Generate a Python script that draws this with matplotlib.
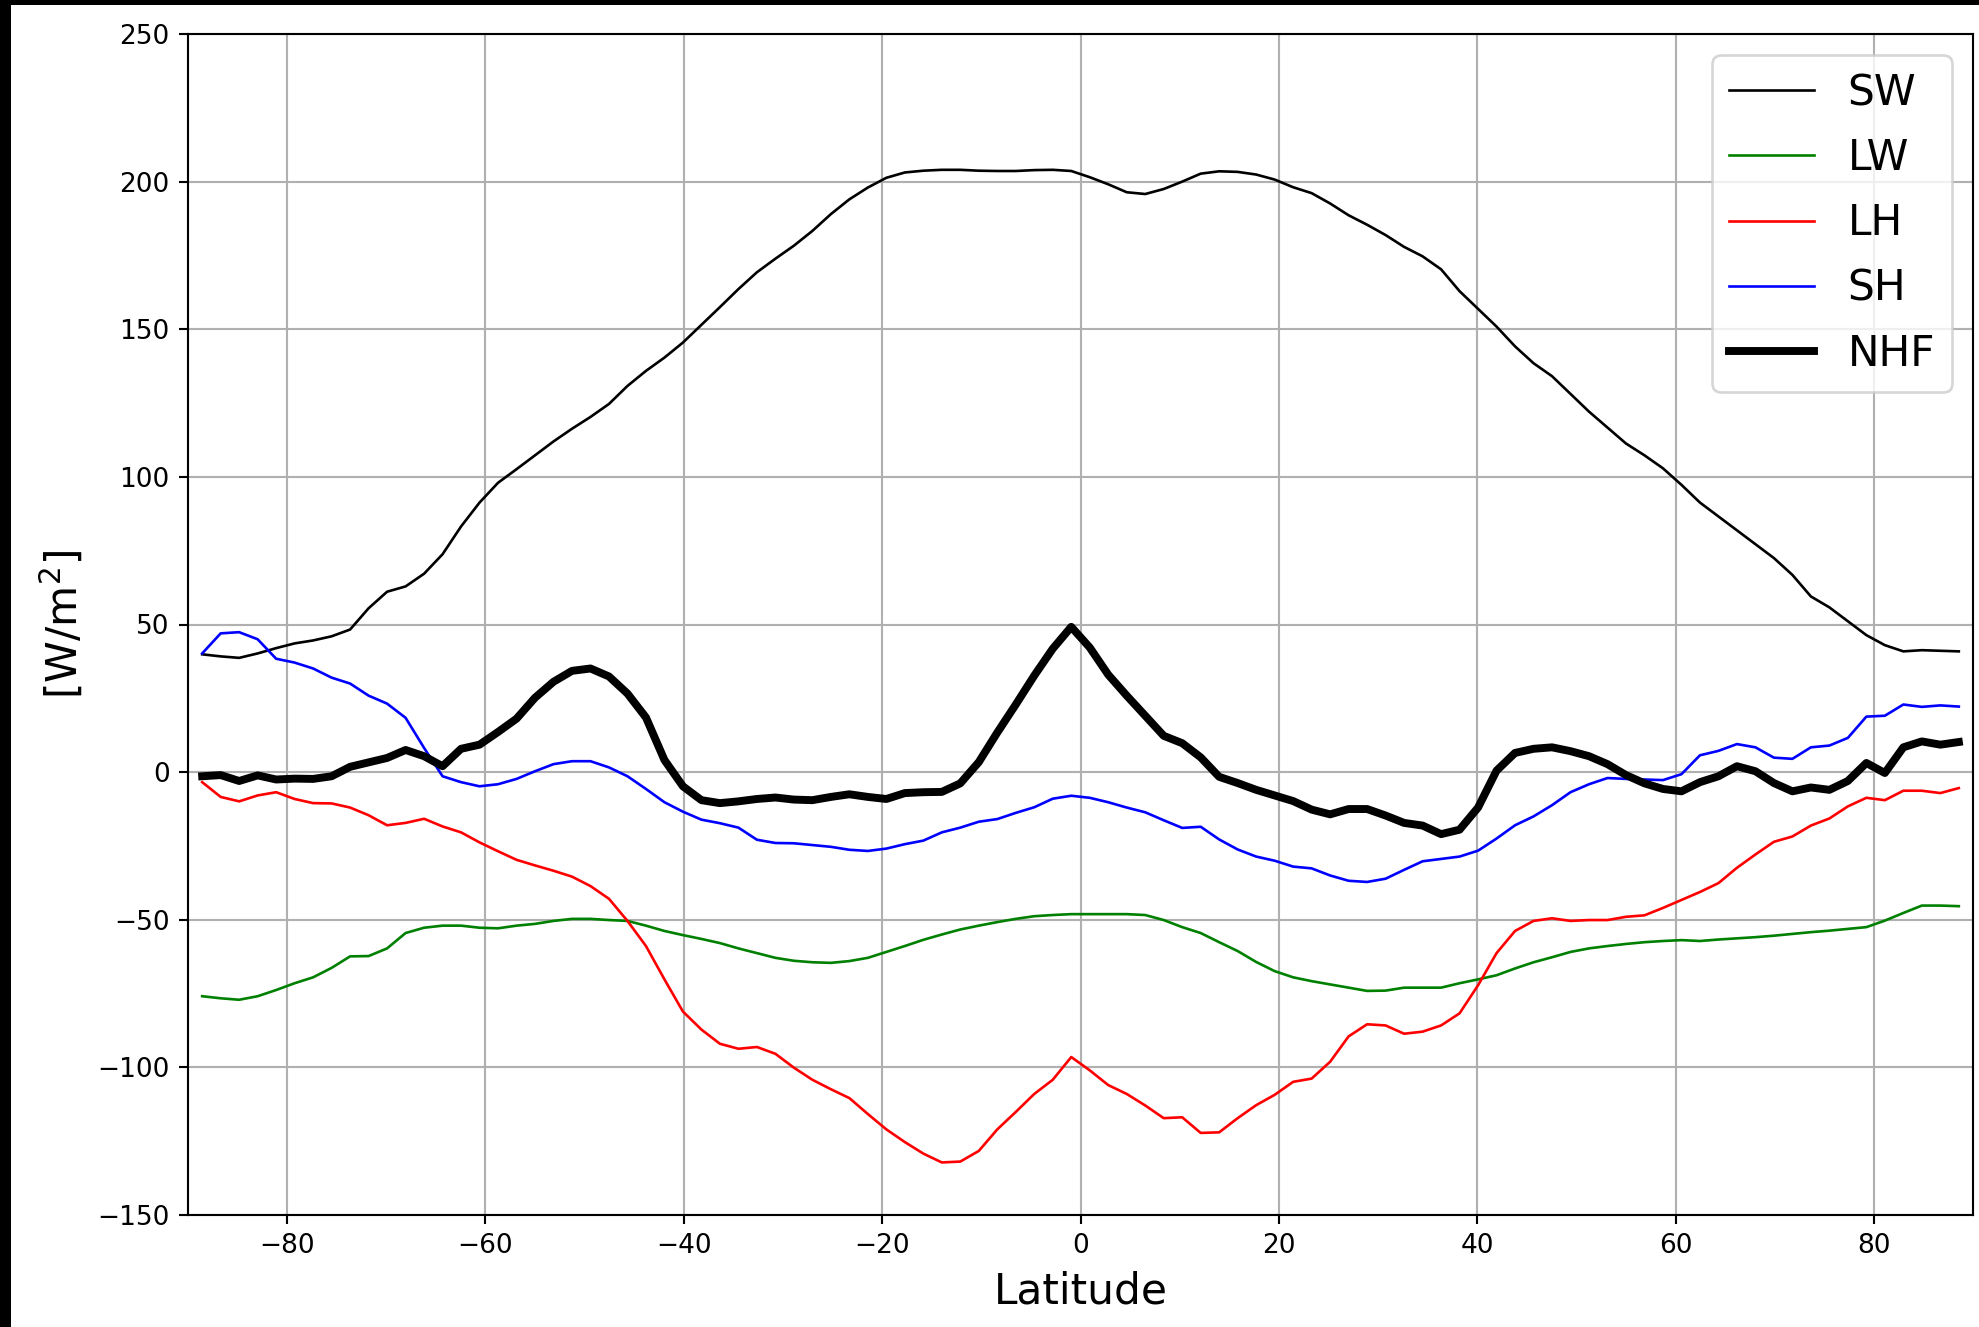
import numpy as np
import matplotlib
matplotlib.use("Agg")
import matplotlib.pyplot as plt
from matplotlib.patches import Rectangle

# T63 Gaussian-grid latitudes (96 rows, south to north)
n_lat = 96
lat = np.linspace(-88.57, 88.57, n_lat)

SW = [39.9, 39.2, 38.7, 40.2, 42.0, 43.6, 44.6, 46.0, 48.3, 55.5,
      61.1, 62.9, 67.2, 73.8, 83.2, 91.3, 98.0, 102.6, 107.3, 112.0,
      116.3, 120.3, 124.7, 130.8, 135.9, 140.4, 145.5, 151.5, 157.5, 163.6,
      169.3, 173.9, 178.3, 183.3, 189.0, 194.0, 198.0, 201.3, 203.1, 203.7,
      204.0, 204.0, 203.7, 203.6, 203.6, 203.9, 204.0, 203.6, 201.5, 199.1,
      196.4, 195.8, 197.5, 200.0, 202.7, 203.5, 203.3, 202.4, 200.7, 198.1,
      196.1, 192.6, 188.6, 185.4, 181.9, 177.9, 174.7, 170.3, 162.9, 156.9,
      150.9, 144.2, 138.5, 134.1, 128.1, 122.1, 116.7, 111.3, 107.3, 102.9,
      97.3, 91.3, 86.6, 81.9, 77.2, 72.5, 66.8, 59.5, 55.8, 51.1,
      46.4, 43.0, 40.9, 41.3, 41.1, 40.9]

LW = [-75.9, -76.6, -77.1, -75.9, -73.8, -71.5, -69.5, -66.3, -62.4, -62.3,
      -59.7, -54.5, -52.7, -52.0, -52.0, -52.7, -52.9, -52.0, -51.4, -50.4,
      -49.7, -49.7, -50.1, -50.4, -52.0, -53.8, -55.2, -56.5, -57.9, -59.7,
      -61.3, -62.9, -63.9, -64.4, -64.6, -64.0, -62.9, -60.9, -58.9, -56.8,
      -55.0, -53.3, -52.0, -50.8, -49.7, -48.8, -48.4, -48.1, -48.1, -48.1,
      -48.1, -48.4, -50.1, -52.5, -54.5, -57.6, -60.6, -64.3, -67.4, -69.5,
      -70.8, -71.9, -73.0, -74.1, -74.0, -73.0, -73.0, -73.0, -71.5, -70.2,
      -68.8, -66.5, -64.4, -62.7, -60.9, -59.7, -58.9, -58.2, -57.6, -57.2,
      -56.9, -57.2, -56.7, -56.3, -55.9, -55.4, -54.8, -54.2, -53.7, -53.1,
      -52.5, -50.3, -47.7, -45.2, -45.2, -45.4]

LH = [-3.4, -8.4, -9.9, -7.9, -6.8, -9.1, -10.5, -10.6, -12.0, -14.6,
      -18.0, -17.2, -15.8, -18.4, -20.4, -23.8, -26.8, -29.7, -31.6, -33.4,
      -35.4, -38.6, -42.9, -50.4, -58.9, -70.2, -81.1, -87.2, -92.0, -93.7,
      -93.1, -95.4, -100.1, -104.2, -107.4, -110.4, -115.8, -121.0, -125.3, -129.2,
      -132.2, -131.9, -128.3, -121.0, -115.1, -109.0, -104.2, -96.5, -101.0, -106.0,
      -109.0, -112.9, -117.2, -116.9, -122.2, -122.0, -117.2, -112.8, -109.3, -104.9,
      -103.8, -98.1, -89.5, -85.4, -85.8, -88.6, -87.9, -85.8, -81.7, -72.2,
      -61.3, -53.8, -50.4, -49.5, -50.4, -50.1, -50.1, -49.0, -48.5, -46.0,
      -43.3, -40.6, -37.6, -32.4, -27.9, -23.6, -21.8, -18.1, -15.7, -11.6,
      -8.7, -9.5, -6.3, -6.3, -7.1, -5.4]

SH = [40.2, 47.0, 47.4, 45.0, 38.4, 37.1, 35.1, 32.0, 30.0, 25.9,
      23.2, 18.4, 8.2, -1.4, -3.4, -4.8, -4.1, -2.3, 0.3, 2.7,
      3.7, 3.7, 1.6, -1.4, -5.7, -10.2, -13.4, -16.1, -17.3, -18.8,
      -22.9, -24.0, -24.1, -24.7, -25.3, -26.3, -26.7, -25.9, -24.4, -23.2,
      -20.4, -18.8, -16.8, -15.9, -13.8, -11.9, -9.0, -8.0, -8.7, -10.2,
      -12.0, -13.6, -16.3, -18.9, -18.5, -22.8, -26.2, -28.6, -30.0, -32.0,
      -32.6, -35.0, -36.8, -37.2, -36.1, -33.1, -30.2, -29.4, -28.6, -26.6,
      -22.5, -18.0, -15.0, -11.2, -6.8, -4.1, -2.0, -2.3, -2.5, -2.7,
      -0.7, 5.7, 7.2, 9.5, 8.4, 4.9, 4.5, 8.4, 9.0, 11.6,
      18.8, 19.1, 22.9, 22.1, 22.6, 22.2]

NHF = [-1.4, -1.0, -3.0, -1.1, -2.5, -2.2, -2.3, -1.4, 1.8, 3.3,
       4.8, 7.5, 5.4, 2.0, 7.9, 9.3, 13.6, 18.1, 25.2, 30.6,
       34.3, 35.1, 32.4, 26.6, 18.5, 4.1, -4.8, -9.5, -10.5, -9.9,
       -9.1, -8.6, -9.3, -9.5, -8.4, -7.5, -8.4, -9.1, -7.1, -6.8,
       -6.7, -3.8, 3.4, 13.4, 22.9, 32.7, 41.8, 49.2, 42.2, 33.0,
       25.9, 19.1, 12.3, 9.8, 5.0, -1.6, -3.7, -6.0, -7.9, -9.8,
       -12.7, -14.3, -12.5, -12.5, -14.7, -17.2, -18.1, -21.0, -19.5, -12.0,
       0.5, 6.5, 7.9, 8.4, 7.1, 5.4, 2.7, -1.0, -3.8, -5.7,
       -6.5, -3.4, -1.4, 2.0, 0.3, -3.7, -6.5, -5.2, -6.0, -3.0,
       3.1, -0.3, 8.4, 10.4, 9.3, 10.2]

labels = ["SW", "LW", "LH", "SH", "NHF"]
colors = ["k", "g", "r", "b", "k"]
widths = [1.0, 1.0, 1.0, 1.0, 3.0]
series = [SW, LW, LH, SH, NHF]

W, H, DPI = 1979, 1327, 190
fig = plt.figure(figsize=(W / DPI, H / DPI), dpi=DPI, facecolor="black")
fig.add_artist(Rectangle((11 / W, 0), 1 - 11 / W, 1 - 5 / H,
                         transform=fig.transFigure, facecolor="white",
                         edgecolor="none", zorder=-10))

ax = fig.add_axes([188 / W, 1 - 1215 / H, (1973 - 188) / W, (1215 - 34) / H])
for y, lab, c, lw in zip(series, labels, colors, widths):
    ax.plot(lat, y, color=c, lw=lw, label=lab)

ax.set_xlim(-90, 90)
ax.set_ylim(-150, 250)
ax.set_xticks([-80, -60, -40, -20, 0, 20, 40, 60, 80])
ax.set_yticks([-150, -100, -50, 0, 50, 100, 150, 200, 250])
ax.tick_params(labelsize=10)
ax.grid(True)
ax.set_xlabel("Latitude", fontsize=16)
ax.set_ylabel("[W/m$^2$]", fontsize=16)
ax.legend(loc="upper right", fontsize=16, labelspacing=0.55)

fig.savefig("out.png", dpi=DPI, facecolor=fig.get_facecolor())
